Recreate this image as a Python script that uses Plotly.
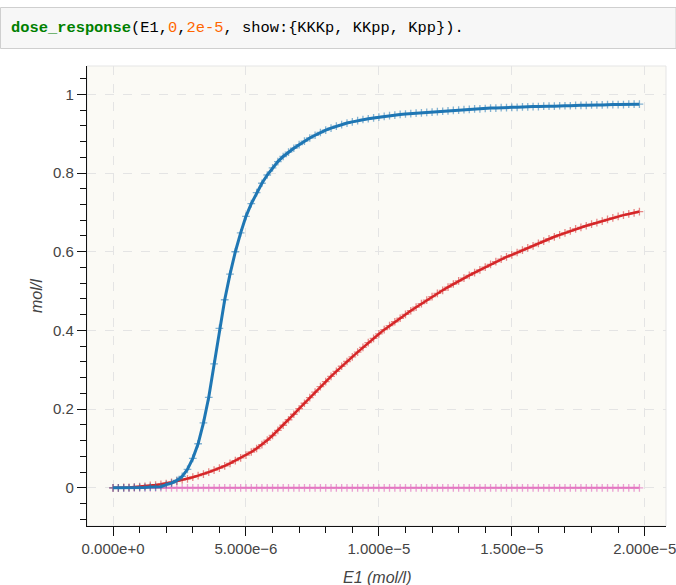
import plotly.graph_objects as go

# E1 concentration (mol/l)
E1 = [
    0.0e-6, 0.2e-6, 0.4e-6, 0.6e-6, 0.8e-6, 1.0e-6, 1.2e-6, 1.4e-6, 1.6e-6, 1.8e-6,
    2.0e-6, 2.2e-6, 2.4e-6, 2.6e-6, 2.8e-6, 3.0e-6, 3.2e-6, 3.4e-6, 3.6e-6, 3.8e-6,
    4.0e-6, 4.2e-6, 4.4e-6, 4.6e-6, 4.8e-6, 5.0e-6, 5.2e-6, 5.4e-6, 5.6e-6, 5.8e-6,
    6.0e-6, 6.2e-6, 6.4e-6, 6.6e-6, 6.8e-6, 7.0e-6, 7.2e-6, 7.4e-6, 7.6e-6, 7.8e-6,
    8.0e-6, 8.2e-6, 8.4e-6, 8.6e-6, 8.8e-6, 9.0e-6, 9.2e-6, 9.4e-6, 9.6e-6, 9.8e-6,
    10.0e-6, 10.2e-6, 10.4e-6, 10.6e-6, 10.8e-6, 11.0e-6, 11.2e-6, 11.4e-6, 11.6e-6, 11.8e-6,
    12.0e-6, 12.2e-6, 12.4e-6, 12.6e-6, 12.8e-6, 13.0e-6, 13.2e-6, 13.4e-6, 13.6e-6, 13.8e-6,
    14.0e-6, 14.2e-6, 14.4e-6, 14.6e-6, 14.8e-6, 15.0e-6, 15.2e-6, 15.4e-6, 15.6e-6, 15.8e-6,
    16.0e-6, 16.2e-6, 16.4e-6, 16.6e-6, 16.8e-6, 17.0e-6, 17.2e-6, 17.4e-6, 17.6e-6, 17.8e-6,
    18.0e-6, 18.2e-6, 18.4e-6, 18.6e-6, 18.8e-6, 19.0e-6, 19.2e-6, 19.4e-6, 19.6e-6, 19.8e-6,
]

KKKp = [
    0.000, 0.000, 0.000, 0.000, 0.000, 0.000, 0.000, 0.000, 0.000, 0.000,
    0.000, 0.000, 0.000, 0.000, 0.000, 0.000, 0.000, 0.000, 0.000, 0.000,
    0.000, 0.000, 0.000, 0.000, 0.000, 0.000, 0.000, 0.000, 0.000, 0.000,
    0.000, 0.000, 0.000, 0.000, 0.000, 0.000, 0.000, 0.000, 0.000, 0.000,
    0.000, 0.000, 0.000, 0.000, 0.000, 0.000, 0.000, 0.000, 0.000, 0.000,
    0.000, 0.000, 0.000, 0.000, 0.000, 0.000, 0.000, 0.000, 0.000, 0.000,
    0.000, 0.000, 0.000, 0.000, 0.000, 0.000, 0.000, 0.000, 0.000, 0.000,
    0.000, 0.000, 0.000, 0.000, 0.000, 0.000, 0.000, 0.000, 0.000, 0.000,
    0.000, 0.000, 0.000, 0.000, 0.000, 0.000, 0.000, 0.000, 0.000, 0.000,
    0.000, 0.000, 0.000, 0.000, 0.000, 0.000, 0.000, 0.000, 0.000, 0.000,
]

KKpp = [
    0.000, 0.000, 0.001, 0.001, 0.002, 0.003, 0.004, 0.006, 0.007, 0.009,
    0.011, 0.014, 0.017, 0.020, 0.023, 0.027, 0.031, 0.035, 0.040, 0.045,
    0.050, 0.056, 0.062, 0.069, 0.076, 0.083, 0.091, 0.100, 0.110, 0.121,
    0.133, 0.146, 0.159, 0.173, 0.187, 0.201, 0.215, 0.229, 0.243, 0.257,
    0.270, 0.283, 0.296, 0.309, 0.321, 0.333, 0.345, 0.357, 0.369, 0.380,
    0.391, 0.402, 0.412, 0.422, 0.431, 0.441, 0.450, 0.459, 0.468, 0.477,
    0.486, 0.494, 0.502, 0.510, 0.518, 0.526, 0.533, 0.540, 0.547, 0.554,
    0.561, 0.568, 0.575, 0.581, 0.587, 0.592, 0.598, 0.604, 0.610, 0.615,
    0.621, 0.627, 0.633, 0.638, 0.643, 0.648, 0.653, 0.658, 0.662, 0.666,
    0.670, 0.674, 0.678, 0.682, 0.686, 0.690, 0.693, 0.696, 0.699, 0.702,
]

Kpp = [
    0.000, 0.000, 0.000, 0.000, 0.001, 0.001, 0.001, 0.002, 0.002, 0.003,
    0.008, 0.012, 0.019, 0.029, 0.047, 0.075, 0.112, 0.165, 0.230, 0.315,
    0.405, 0.478, 0.543, 0.600, 0.648, 0.690, 0.722, 0.750, 0.774, 0.795,
    0.813, 0.829, 0.842, 0.853, 0.863, 0.872, 0.881, 0.889, 0.896, 0.903,
    0.909, 0.914, 0.919, 0.923, 0.927, 0.930, 0.933, 0.936, 0.938, 0.940,
    0.942, 0.944, 0.946, 0.947, 0.949, 0.950, 0.951, 0.952, 0.953, 0.954,
    0.955, 0.956, 0.957, 0.958, 0.959, 0.960, 0.961, 0.962, 0.963, 0.963,
    0.964, 0.965, 0.965, 0.966, 0.966, 0.967, 0.967, 0.968, 0.968, 0.969,
    0.969, 0.970, 0.970, 0.970, 0.971, 0.971, 0.971, 0.972, 0.972, 0.972,
    0.973, 0.973, 0.973, 0.974, 0.974, 0.974, 0.974, 0.975, 0.975, 0.975,
]

x_tickvals = [0, 5e-6, 1e-5, 1.5e-5, 2e-5]
x_ticktext = ["0.000e+0", "5.000e\u22126", "1.000e\u22125", "1.500e\u22125", "2.000e\u22125"]
y_tickvals = [0, 0.2, 0.4, 0.6, 0.8, 1.0]
y_ticktext = ["0", "0.2", "0.4", "0.6", "0.8", "1"]

series = [
    ("KKKp", KKKp, "#e377c2", "rgba(227,119,194,0.7)", 2),
    ("KKpp", KKpp, "#d62728", "rgba(214,39,40,0.55)", 2.5),
    ("Kpp", Kpp, "#1f77b4", "rgba(31,119,180,0.55)", 3),
]

fig = go.Figure()
for name, vals, col, mcol, lw in series:
    fig.add_trace(go.Scatter(
        x=E1, y=vals, name=name, mode="lines+markers",
        line=dict(color=col, width=lw),
        marker=dict(symbol="cross-thin-open", size=5.5,
                    line=dict(color=mcol, width=1.3), color=mcol),
        showlegend=False,
    ))

L, R, T, B = 87, 10, 66, 59
W, H = 676, 585
pw, ph = W - L - R, H - T - B

def px(x):
    return (x - L) / pw

def py(y):
    return (H - B - y) / ph

font_main = "Liberation Sans, Helvetica, Arial, sans-serif"

fig.update_layout(
    width=W, height=H,
    margin=dict(l=L, r=R, t=T, b=B),
    paper_bgcolor="white",
    plot_bgcolor="#fbfaf5",
    font=dict(family=font_main, size=15, color="#444"),
    xaxis=dict(
        range=[-0.98e-6, 20.8e-6],
        automargin=False,
        tickmode="array", tickvals=x_tickvals, ticktext=x_ticktext,
        ticklabeloverflow="allow",
        ticks="outside", ticklen=9, tickwidth=1.2, tickcolor="#111",
        showline=True, linecolor="#111", linewidth=1.2,
        showgrid=True, gridcolor="#e4e4e4", griddash="dash", gridwidth=1,
        zeroline=False,
        minor=dict(dtick=1e-6, tick0=0, ticks="outside", ticklen=5.5,
                   tickwidth=1.2, tickcolor="#111", showgrid=False),
        tickfont=dict(size=15, color="#444"),
    ),
    yaxis=dict(
        range=[-0.097, 1.072],
        automargin=False,
        tickmode="array", tickvals=y_tickvals, ticktext=y_ticktext,
        ticks="outside", ticklen=9, tickwidth=1.2, tickcolor="#111",
        showline=True, linecolor="#111", linewidth=1.2,
        showgrid=True, gridcolor="#e4e4e4", griddash="dash", gridwidth=1,
        zeroline=False,
        minor=dict(dtick=0.04, tick0=0, ticks="outside", ticklen=5.5,
                   tickwidth=1.2, tickcolor="#111", showgrid=False),
        tickfont=dict(size=15, color="#444"),
    ),
    shapes=[
        dict(type="rect", xref="paper", yref="paper", x0=0, x1=1, y0=0, y1=1,
             line=dict(color="#e5e5e5", width=1), layer="below"),
        dict(type="rect", xref="paper", yref="paper",
             x0=px(0.5), x1=px(676), y0=py(48.5), y1=py(7.5),
             fillcolor="#f7f7f7", line=dict(color="#cfcfcf", width=1), layer="below"),
    ],
    annotations=[
        dict(xref="paper", yref="paper", x=px(9), y=py(28), xanchor="left", yanchor="middle",
             showarrow=False,
             text=('<span style="color:#008000"><b>dose_response</b></span>'
                   '<span style="color:#000">(E1,</span>'
                   '<span style="color:#ff6600">0</span>'
                   '<span style="color:#000">,</span>'
                   '<span style="color:#ff6600">2e-5</span>'
                   '<span style="color:#000">, show:{KKKp, KKpp, Kpp}).</span>'),
             font=dict(family="Liberation Mono, DejaVu Sans Mono, monospace", size=15.4, color="#000")),
        dict(xref="paper", yref="paper", x=0.5, y=py(577), xanchor="center", yanchor="middle",
             showarrow=False, text="<i>E1 (mol/l)</i>",
             font=dict(family=font_main, size=16, color="#444")),
        dict(xref="paper", yref="paper", x=px(36), y=0.5, xanchor="center", yanchor="middle",
             showarrow=False, text="<i>mol/l</i>", textangle=-90,
             font=dict(family=font_main, size=16, color="#444")),
    ],
)

fig.write_html("out.html")
